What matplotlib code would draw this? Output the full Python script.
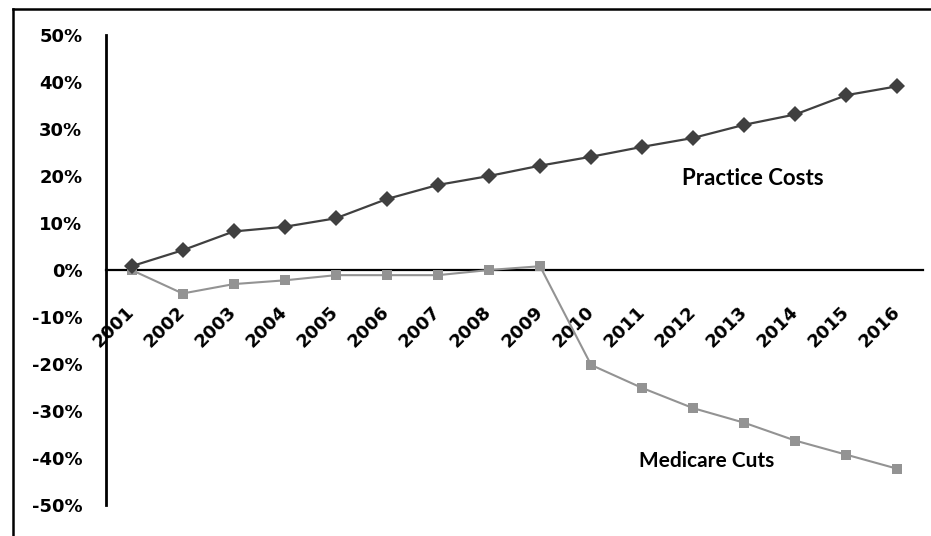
import matplotlib.pyplot as plt
from matplotlib.lines import Line2D

# Datos
years = ['2001', '2002', '2003', '2004', '2005', '2006', '2007', '2008',
         '2009', '2010', '2011', '2012', '2013', '2014', '2015', '2016']
practice_costs = [0.8, 4.2, 8.2, 9.2, 11.0, 15.1, 18.1, 20.0,
                  22.2, 24.1, 26.2, 28.1, 30.9, 33.1, 37.2, 39.1]
medicare_cuts = [0.0, -5.0, -3.0, -2.2, -1.1, -1.1, -1.1, 0.0,
                 0.8, -20.2, -25.1, -29.4, -32.5, -36.3, -39.3, -42.3]
y_ticks = [50, 40, 30, 20, 10, 0, -10, -20, -30, -40, -50]

W, H = 931, 536
fig = plt.figure(figsize=(W / 100, H / 100), dpi=100)
ax = fig.add_axes([106 / W, (H - 505) / H, (923 - 106) / W, 470 / H])

x = list(range(len(years)))
ax.plot(x, medicare_cuts, color='#939393', lw=1.5, marker='s', ms=7,
        markeredgewidth=0, zorder=3)
ax.plot(x, practice_costs, color='#404040', lw=1.6, marker='D', ms=8,
        markeredgewidth=0, zorder=4)

ax.set_xlim(-0.5, len(years) - 0.5)
ax.set_ylim(-50, 50)

# Ejes
for s in ['top', 'right']:
    ax.spines[s].set_visible(False)
ax.spines['bottom'].set_position(('data', 0))
ax.spines['bottom'].set_linewidth(1.6)
ax.spines['left'].set_linewidth(2)

ax.set_yticks(y_ticks)
ax.set_yticklabels(['{}%'.format(v) for v in y_ticks],
                   fontsize=13, fontweight='bold', family='DejaVu Sans')
ax.tick_params(axis='y', length=0, pad=17)

ax.set_xticks(x)
ax.set_xticklabels(years, rotation=45, ha='right', va='center',
                   rotation_mode='anchor', fontsize=13, fontweight='bold',
                   family='DejaVu Sans')
ax.tick_params(axis='x', length=0, pad=28)

# Etiquetas de las series
ax.text(12.17, 18.1, 'Practice Costs', ha='center', va='baseline',
        fontsize=16, fontweight='bold', family='Lato')
ax.text(11.27, -42.0, 'Medicare Cuts', ha='center', va='baseline',
        fontsize=15, fontweight='bold', family='Lato')

# Marco recortado
fig.add_artist(Line2D([13 / W, 1], [1 - 9 / H, 1 - 9 / H], color='black', lw=1.8))
fig.add_artist(Line2D([13 / W, 13 / W], [0, 1 - 9 / H], color='black', lw=1.8))

fig.savefig('out.png', dpi=100)
